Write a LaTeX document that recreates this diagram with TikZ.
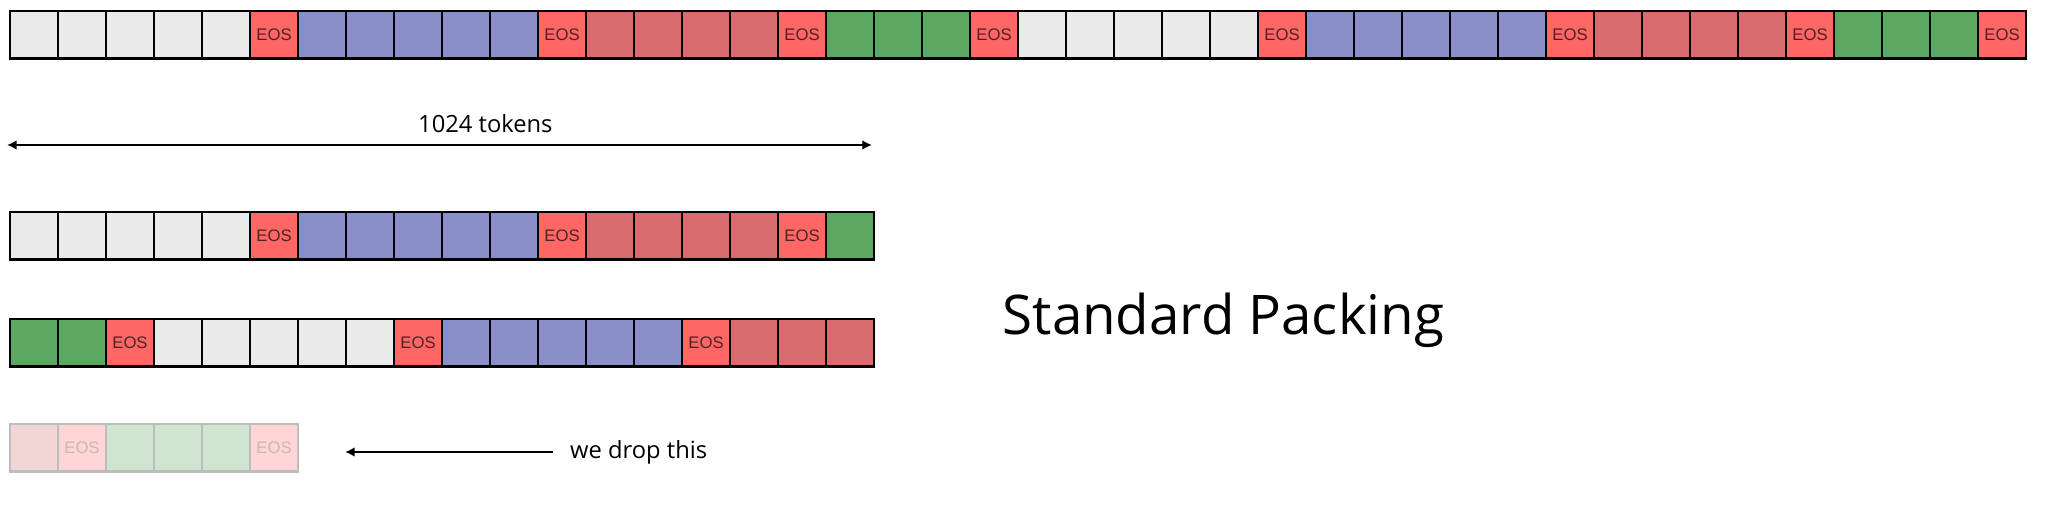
\documentclass[tikz,border=0pt]{standalone}
\usepackage{fontspec}
\setmainfont{Open Sans}
\newfontfamily\eosfont{Liberation Sans}
\usetikzlibrary{arrows.meta}

\definecolor{cgy}{HTML}{EAEAEA}
\definecolor{cbl}{HTML}{8A8FC8}
\definecolor{crd}{HTML}{D86C6C}
\definecolor{cgn}{HTML}{5BA862}
\definecolor{ceos}{HTML}{FF6666}
\definecolor{ceostxt}{HTML}{4D2424}
\definecolor{cfade}{HTML}{BDBDBD}
\definecolor{cfr}{HTML}{F2D6D6}
\definecolor{cfe}{HTML}{FFD5D5}
\definecolor{cfg}{HTML}{CFE5CF}
\definecolor{cfadetxt}{HTML}{CDB6B6}

\tikzset{
  cell/.style={draw, line width=1.2pt, minimum width=0.96cm, minimum height=0.95cm,
    inner sep=0pt, outer sep=0pt, anchor=north west},
  gy/.style={cell, fill=cgy},
  bl/.style={cell, fill=cbl},
  rd/.style={cell, fill=crd},
  gn/.style={cell, fill=cgn},
  eos/.style={cell, fill=ceos,
    label={[font=\eosfont\fontsize{9.5}{11}\selectfont, text=ceostxt]center:EOS}},
  fr/.style={cell, draw=cfade, fill=cfr},
  fe/.style={fr, fill=cfe,
    label={[font=\eosfont\fontsize{9.5}{11}\selectfont, text=cfadetxt]center:EOS}},
  fg/.style={fr, fill=cfg},
}

\begin{document}
\begin{tikzpicture}[>={Latex[length=5.5pt,width=5.5pt]}]
  \useasboundingbox (0,0) rectangle (40.96,-10.52);

  % the whole stream
  \foreach \s [count=\i from 0] in {gy,gy,gy,gy,gy,eos,bl,bl,bl,bl,bl,eos,rd,rd,rd,rd,eos,gn,gn,gn,eos,
                                   gy,gy,gy,gy,gy,eos,bl,bl,bl,bl,bl,eos,rd,rd,rd,rd,eos,gn,gn,gn,eos}
    \node[\s] (a\i) at (0.2+0.96*\i, -0.22) {};

  % window size
  \coordinate (tokL) at (0.14,-2.9);
  \coordinate (tokR) at (17.44,-2.9);
  \draw[<->, line width=1.1pt] (tokL) -- (tokR);
  \node (tok) [anchor=base west, font=\fontsize{13.5}{16}\selectfont] at (8.24,-2.65) {1024 tokens};

  % packed sequences
  \foreach \s [count=\i from 0] in {gy,gy,gy,gy,gy,eos,bl,bl,bl,bl,bl,eos,rd,rd,rd,rd,eos,gn}
    \node[\s] (b\i) at (0.2+0.96*\i, -4.24) {};
  \foreach \s [count=\i from 0] in {gn,gn,eos,gy,gy,gy,gy,gy,eos,bl,bl,bl,bl,bl,eos,rd,rd,rd}
    \node[\s] (c\i) at (0.2+0.96*\i, -6.38) {};

  % leftover
  \foreach \s [count=\i from 0] in {fr,fe,fg,fg,fg,fe}
    \node[\s] (d\i) at (0.2+0.96*\i, -8.48) {};

  \coordinate (dropS) at (11.05,-9.04);
  \coordinate (dropE) at (6.9,-9.04);
  \draw[->, line width=1.1pt] (dropS) -- (dropE);
  \node (drop) [anchor=base west, font=\fontsize{13.5}{16}\selectfont] at (11.28,-9.18) {we drop this};

  \node (title) [anchor=base west, font=\fontsize{31.1}{36}\selectfont] at (19.93,-6.70) {Standard Packing};
\end{tikzpicture}
\end{document}
